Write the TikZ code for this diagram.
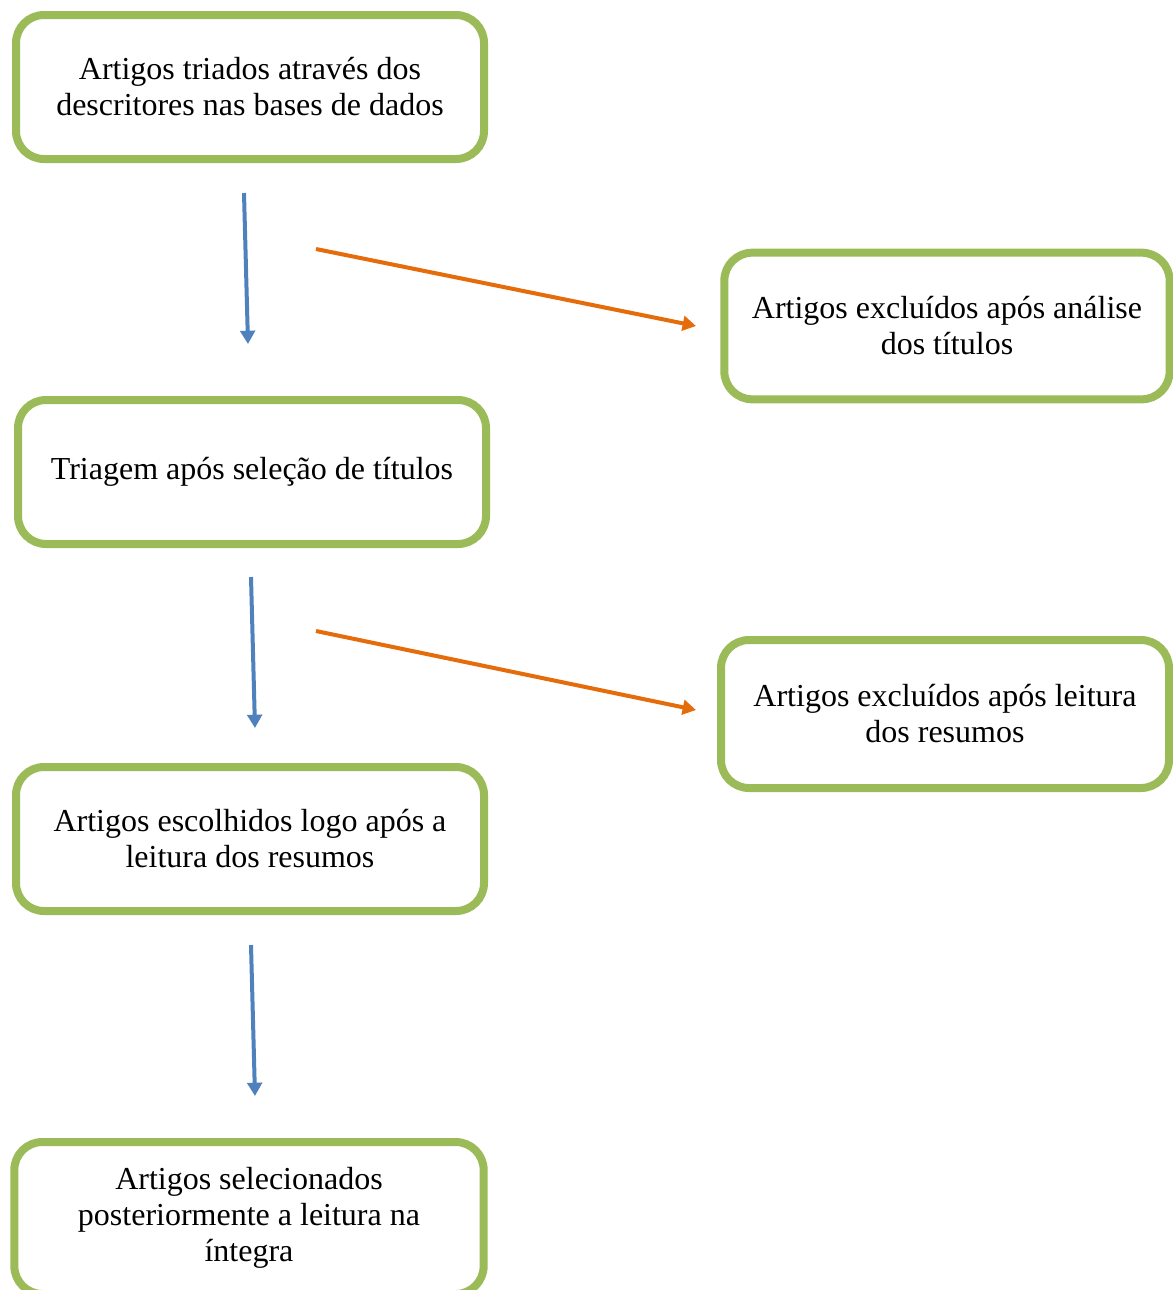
\documentclass[tikz,border=0pt]{standalone}
\usepackage{xcolor}
\usepackage{fontspec}
\setmainfont{Liberation Serif}
\usepackage{tikz}
\usetikzlibrary{shapes, arrows.meta}

\definecolor{boxgreen}{RGB}{155,187,89}
\definecolor{flowblue}{RGB}{79,129,189}
\definecolor{flowor}{RGB}{228,108,10}

\tikzset{
  etapa/.style={draw=boxgreen, line width=6pt, rounded corners=21pt, fill=white,
    align=center, inner sep=0pt, minimum width=351pt, minimum height=108pt,
    font=\fontsize{24}{27}\selectfont},
  segue/.style={draw=flowblue, line width=3pt, -{Triangle[length=10pt,width=11pt]}},
  exclui/.style={draw=flowor, line width=3pt, -{Triangle[length=10pt,width=11pt]}}
}

\begin{document}
\begin{tikzpicture}[x=0.75pt,y=0.75pt,yscale=-1,xscale=1]
\useasboundingbox (0,0) rectangle (1173,1290);

% Boxes
\node (triados) [etapa] at (250,87) {Artigos triados através dos\\descritores nas bases de dados};
\node (excTit) [etapa, minimum width=334pt, minimum height=110pt] at (947,326) {Artigos excluídos após análise\\dos títulos};
\node (triagem) [etapa] at (252,472) {Triagem após seleção de títulos};
\node (excRes) [etapa, minimum width=336pt, minimum height=111pt] at (945,714) {Artigos excluídos após leitura\\dos resumos};
\node (escolhidos) [etapa] at (250,839) {Artigos escolhidos logo após a\\leitura dos resumos};
\node (selec) [etapa, minimum width=352pt, minimum height=114pt] at (249,1218) {Artigos selecionados\\posteriormente a leitura na\\íntegra};

% Arrow ends
\coordinate (a1) at (244,193);
\coordinate (a2) at (248,344);
\coordinate (a3) at (251,577);
\coordinate (a4) at (255,728);
\coordinate (a5) at (251,945);
\coordinate (a6) at (255,1096);
\coordinate (o1) at (316,249);
\coordinate (o2) at (696,326);
\coordinate (o3) at (316,631);
\coordinate (o4) at (696,710);

% Arrows
\draw [segue] (a1) -- (a2);
\draw [segue] (a3) -- (a4);
\draw [segue] (a5) -- (a6);
\draw [exclui] (o1) -- (o2);
\draw [exclui] (o3) -- (o4);

\end{tikzpicture}
\end{document}
